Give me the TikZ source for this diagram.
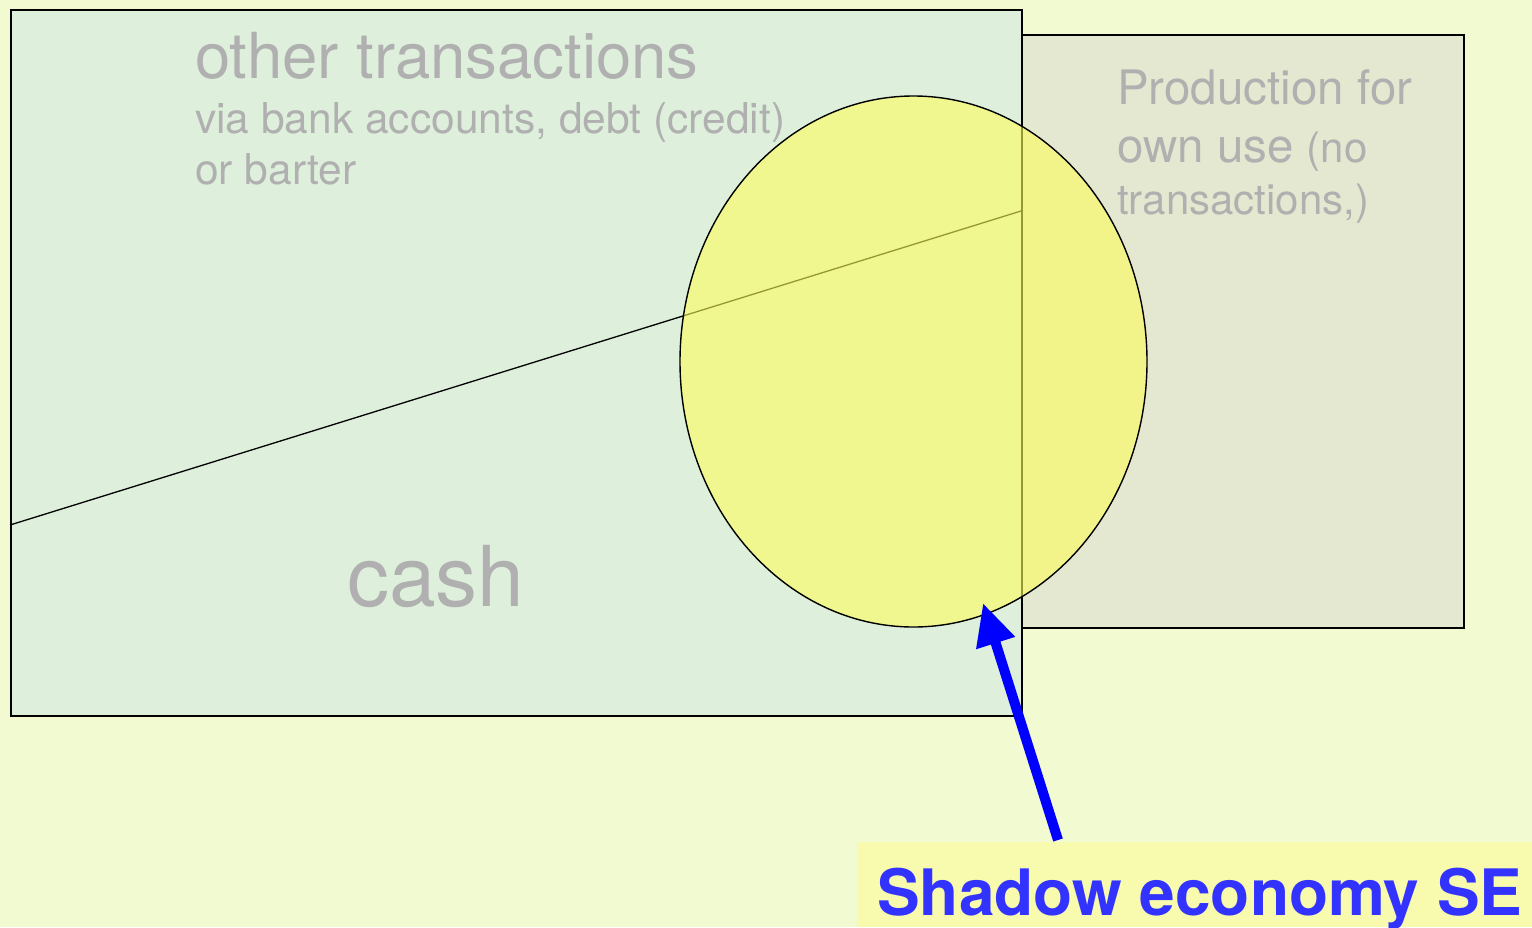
\documentclass[tikz,border=0pt]{standalone}
\usepackage{fontspec}
\setmainfont{TeX Gyre Heros}
\usetikzlibrary{arrows.meta,shapes.geometric}
\definecolor{bgc}{RGB}{242,250,210}
\definecolor{leftc}{RGB}{222,240,220}
\definecolor{rightc}{RGB}{228,232,208}
\definecolor{ellc}{RGB}{252,252,90}
\definecolor{greytxt}{RGB}{176,176,176}
\definecolor{labelbg}{RGB}{248,251,174}
\definecolor{bluetxt}{RGB}{51,51,255}
\definecolor{arrowc}{RGB}{0,0,255}
\tikzset{
  boxa/.style={draw=black, line width=1.6pt, inner sep=0pt, anchor=north west},
  gtxt/.style={text=greytxt, inner sep=0pt, anchor=base west},
}
\begin{document}
\begin{tikzpicture}[x=1pt,y=-1pt]
\fill[bgc] (0,0) rectangle (1532,927);
\useasboundingbox (0,0) rectangle (1532,927);
% right rectangle
\node[boxa, fill=rightc, minimum width=442pt, minimum height=593pt] (right) at (1021,34) {};
% left rectangle
\node[boxa, fill=leftc, minimum width=1011pt, minimum height=706pt] (left) at (10,9) {};
% dividing line
\coordinate (la) at (10,525);
\coordinate (lb) at (1021,211);
\draw[line width=1.3pt] (la) -- (lb);
% ellipse
\node[ellipse, fill=ellc, fill opacity=0.6, draw=black, draw opacity=1, line width=1.4pt, minimum width=467pt, minimum height=531pt, inner sep=0pt] (se) at (913.5,361.5) {};
% texts
\node[gtxt, font=\fontsize{63.5}{63.5}\selectfont] (ot) at (195,78) {other transactions};
\node[gtxt, font=\fontsize{42.5}{42.5}\selectfont] (via) at (195,133) {via bank accounts, debt (credit)};
\node[gtxt, font=\fontsize{42.5}{42.5}\selectfont] (orb) at (195,184) {or barter};
\node[gtxt, font=\fontsize{84}{84}\selectfont] (cash) at (347,606) {cash};
\node[gtxt, font=\fontsize{47.5}{47.5}\selectfont] (p1) at (1117,104) {Production for};
\node[gtxt, font=\fontsize{47.5}{47.5}\selectfont] (p2) at (1117,162) {own use {\fontsize{42}{42}\selectfont(no}};
\node[gtxt, font=\fontsize{42}{42}\selectfont] (p3) at (1117,214) {transactions,)};
% label
\fill[labelbg] (857,842) rectangle (1532,927);
\node[text=bluetxt, inner sep=0pt, anchor=base west, font=\bfseries\fontsize{64}{64}\selectfont] (lab) at (877,915) {Shadow economy SE};
% arrow
\coordinate (tail) at (1058,840);
\coordinate (tip) at (983,603);
\draw[arrowc, line width=10pt, -{Triangle[length=42pt,width=38pt]}] (tail) -- (tip);
\end{tikzpicture}
\end{document}
